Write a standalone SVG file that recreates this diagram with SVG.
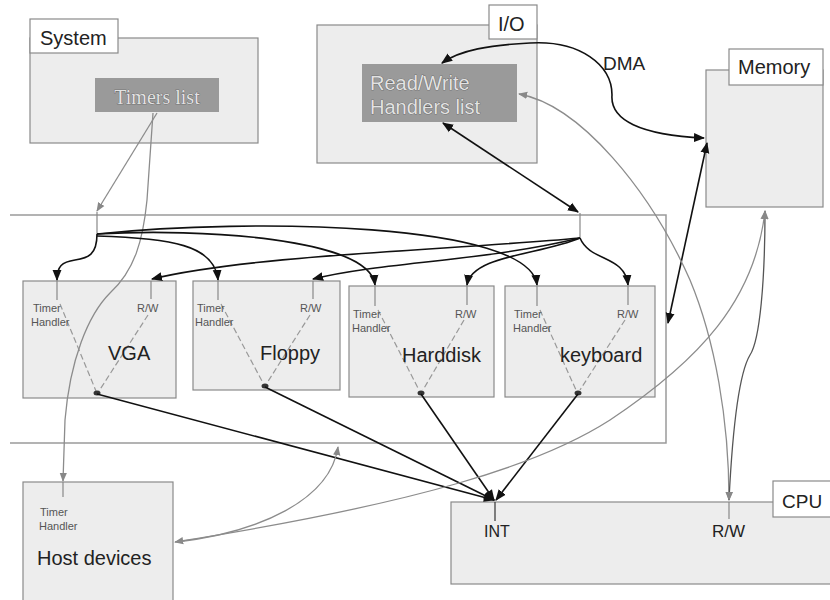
<svg xmlns="http://www.w3.org/2000/svg" width="830" height="600" viewBox="0 0 830 600">
<defs>
<marker id="ab" viewBox="0 0 10 10" refX="9" refY="5" markerWidth="7" markerHeight="7" orient="auto-start-reverse"><path d="M0,1 L10,5 L0,9 z" fill="#111"/></marker>
<marker id="ag" viewBox="0 0 10 10" refX="9" refY="5" markerWidth="7" markerHeight="7" orient="auto-start-reverse"><path d="M0,1 L10,5 L0,9 z" fill="#888"/></marker>
</defs>
<style>
.box{fill:#ededed;stroke:#8a8a8a;stroke-width:1.2}
.tab{fill:#fff;stroke:#8a8a8a;stroke-width:1.2}
.list{fill:#9a9a9a;stroke:none}
.lt{fill:#e2e2e2;stroke:#4a4a4a;stroke-width:0.6;paint-order:stroke}
.t{font-family:"Liberation Sans",Arial,sans-serif;fill:#222}
.small{font-family:"Liberation Sans",Arial,sans-serif;font-size:11px;fill:#555}
.big{font-family:"Liberation Sans",Arial,sans-serif;font-size:20px;fill:#222}
.stem{stroke:#888;stroke-width:1.2;fill:none}
.dash{stroke:#999;stroke-width:1.2;stroke-dasharray:6,3;fill:none}
.blk{stroke:#111;stroke-width:1.6;fill:none}
.gry{stroke:#8c8c8c;stroke-width:1.3;fill:none}
.dot{fill:#333}
</style>
<rect width="830" height="600" fill="#fff"/>

<g id="device-area">
<path d="M10,215 H666 V443 H10" fill="none" stroke="#9a9a9a" stroke-width="1.5"/>
</g>

<g id="system">
<rect class="box" x="30" y="38" width="228" height="105"/>
<rect class="tab" x="30" y="19" width="88" height="34"/>
<text class="t" x="40" y="45" font-size="20">System</text>
<rect class="list" x="95" y="78" width="124" height="34"/>
<text class="lt" x="157" y="104" font-family="'Liberation Serif','Times New Roman',serif" font-size="20" text-anchor="middle">Timers list</text>
</g>

<g id="io">
<rect class="box" x="317" y="25" width="220" height="138"/>
<rect class="tab" x="489" y="5" width="48" height="34"/>
<text class="t" x="498" y="31" font-size="20">I/O</text>
<rect class="list" x="362" y="64" width="155" height="58"/>
<text class="lt" x="370" y="90" font-family="'Liberation Sans',Arial,sans-serif" font-size="20">Read/Write</text>
<text class="lt" x="370" y="114" font-family="'Liberation Sans',Arial,sans-serif" font-size="20">Handlers list</text>
</g>

<g id="memory">
<rect class="box" x="706" y="70" width="117" height="137"/>
<rect class="tab" x="729" y="49" width="94" height="36"/>
<text class="t" x="738" y="74" font-size="20">Memory</text>
</g>

<g id="vga">
<rect class="box" x="23" y="281" width="153" height="117"/>
<line class="stem" x1="57" y1="281" x2="57" y2="300"/>
<line class="stem" x1="151" y1="281" x2="151" y2="299"/>
<line class="dash" x1="60" y1="304" x2="96" y2="391"/>
<line class="dash" x1="148" y1="315" x2="99" y2="391"/>
<text class="small" x="33" y="312">Timer</text>
<text class="small" x="31" y="326">Handler</text>
<text class="small" x="137" y="312">R/W</text>
<text class="big" x="108" y="360">VGA</text>
<ellipse class="dot" cx="97" cy="393" rx="3.5" ry="2.5"/>
</g>

<g id="floppy">
<rect class="box" x="193" y="281" width="147" height="109"/>
<line class="stem" x1="218" y1="281" x2="218" y2="300"/>
<line class="stem" x1="313" y1="281" x2="313" y2="299"/>
<line class="dash" x1="221" y1="304" x2="263" y2="383"/>
<line class="dash" x1="310" y1="315" x2="267" y2="383"/>
<text class="small" x="197" y="312">Timer</text>
<text class="small" x="195" y="326">Handler</text>
<text class="small" x="300" y="312">R/W</text>
<text class="big" x="260" y="360" font-size="21">Floppy</text>
<ellipse class="dot" cx="265" cy="386" rx="3.5" ry="2.5"/>
</g>

<g id="harddisk">
<rect class="box" x="349" y="286" width="145" height="111"/>
<line class="stem" x1="375" y1="286" x2="375" y2="306"/>
<line class="stem" x1="467" y1="286" x2="467" y2="305"/>
<line class="dash" x1="378" y1="310" x2="419" y2="390"/>
<line class="dash" x1="464" y1="320" x2="423" y2="390"/>
<text class="small" x="353" y="318">Timer</text>
<text class="small" x="352" y="332">Handler</text>
<text class="small" x="455" y="318">R/W</text>
<text class="big" x="402" y="362">Harddisk</text>
<ellipse class="dot" cx="421" cy="393" rx="3.5" ry="2.5"/>
</g>

<g id="keyboard">
<rect class="box" x="505" y="286" width="150" height="111"/>
<line class="stem" x1="537" y1="286" x2="537" y2="306"/>
<line class="stem" x1="628" y1="286" x2="628" y2="305"/>
<line class="dash" x1="540" y1="310" x2="576" y2="390"/>
<line class="dash" x1="625" y1="320" x2="580" y2="390"/>
<text class="small" x="514" y="318">Timer</text>
<text class="small" x="513" y="332">Handler</text>
<text class="small" x="617" y="318">R/W</text>
<text class="big" x="560" y="362">keyboard</text>
<ellipse class="dot" cx="578" cy="393" rx="3.5" ry="2.5"/>
</g>

<g id="host">
<rect class="box" x="23" y="482" width="150" height="130"/>
<line class="stem" x1="63" y1="482" x2="63" y2="497"/>
<text class="small" x="40" y="516">Timer</text>
<text class="small" x="39" y="530">Handler</text>
<text class="big" x="37" y="565" font-size="21">Host devices</text>
</g>

<g id="cpu">
<rect class="box" x="451" y="502" width="390" height="82"/>
<rect class="tab" x="773" y="481" width="70" height="36"/>
<text class="t" x="782" y="508" font-size="19">CPU</text>
<line x1="495" y1="502" x2="495" y2="521" stroke="#333" stroke-width="1.2"/>
<line class="stem" x1="729" y1="502" x2="729" y2="519"/>
<text class="t" x="484" y="537" font-size="16">INT</text>
<text class="t" x="712" y="537" font-size="17" fill="#666">R/W</text>
</g>

<g id="connectors">
<line class="gry" x1="157" y1="113" x2="97" y2="211" marker-end="url(#ag)"/>
<line class="stem" x1="97" y1="212" x2="97" y2="234"/>
<path class="gry" d="M153,113 L147,200 C143,240 135,270 110,293 C88,315 70,360 65,420 L63,481" marker-end="url(#ag)"/>
<path class="blk" d="M97,234 C97,255 88,258 75,260 C62,262 57,266 57,280" marker-end="url(#ab)"/>
<path class="blk" d="M97,236 C170,238 215,245 218,280" marker-end="url(#ab)"/>
<path class="blk" d="M97,234 C200,228 370,238 375,285" marker-end="url(#ab)"/>
<path class="blk" d="M97,234 C250,218 530,222 537,285" marker-end="url(#ab)"/>
<line class="blk" x1="443" y1="123" x2="578" y2="212" marker-start="url(#ab)" marker-end="url(#ab)"/>
<line class="stem" x1="580" y1="213" x2="580" y2="238"/>
<path class="blk" d="M580,238 C450,250 250,255 152,279" marker-end="url(#ab)"/>
<path class="blk" d="M580,238 C480,262 380,262 313,279" marker-end="url(#ab)"/>
<path class="blk" d="M580,238 C540,255 472,255 467,285" marker-end="url(#ab)"/>
<path class="blk" d="M580,238 C590,262 625,255 628,285" marker-end="url(#ab)"/>
<line class="blk" x1="97" y1="394" x2="494" y2="500" marker-end="url(#ab)"/>
<line class="blk" x1="265" y1="387" x2="494" y2="500" marker-end="url(#ab)"/>
<line class="blk" x1="421" y1="394" x2="494" y2="500" marker-end="url(#ab)"/>
<line class="blk" x1="578" y1="394" x2="496" y2="500" marker-end="url(#ab)"/>
<path class="blk" d="M704,138 C640,135 610,120 612,95 C612,65 580,40 530,43 C490,45 460,50 442,63" marker-start="url(#ab)" marker-end="url(#ab)"/>
<text class="t" x="603" y="70" font-size="19" fill="#333">DMA</text>
<line class="blk" x1="707" y1="143" x2="668" y2="323" marker-start="url(#ab)" marker-end="url(#ab)"/>
<path class="gry" d="M519,94 C580,105 650,190 690,280 C715,340 729,420 729,500" marker-start="url(#ag)" marker-end="url(#ag)"/>
<path d="M765,211 C765,280 760,340 750,355 C738,375 732,440 729,500" fill="none" stroke="#555" stroke-width="1.3" marker-start="url(#ag)" marker-end="url(#ag)"/>
<path class="gry" d="M765,211 C755,300 700,360 610,420 C540,465 420,503 175,542" marker-start="url(#ag)" marker-end="url(#ag)"/>
<path class="gry" d="M177,542 C260,532 330,500 338,447" marker-end="url(#ag)"/>
</g>
</svg>
